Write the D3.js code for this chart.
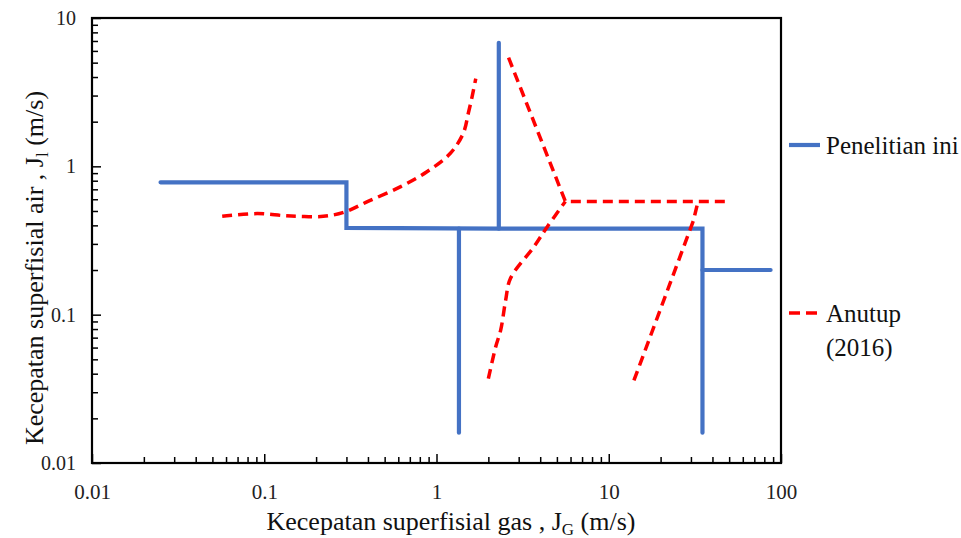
<!DOCTYPE html>
<html>
<head>
<meta charset="utf-8">
<script src="https://cdn.jsdelivr.net/npm/d3@7/dist/d3.min.js"></script>
<style>
  body { margin: 0; background: #fff; }
  svg text { font-family: "Liberation Serif", "Times New Roman", serif; }
</style>
</head>
<body>
<div id="chart"></div>
<script>
// Flow-regime map: superficial gas vs liquid velocity, log-log.

const xTicks = [0.01, 0.1, 1, 10, 100];
const yTicks = [0.01, 0.1, 1, 10];

// "Penelitian ini" boundaries (blue solid)
const blueMain = [[0.025, 0.78], [0.3, 0.78], [0.3, 0.385], [2.3, 0.38], [35, 0.38], [35, 0.016]];
const blueRise = [[2.3, 6.8], [2.3, 0.38]];
const blueDrop = [[1.35, 0.38], [1.35, 0.016]];
const blueTail = [[35, 0.2], [87, 0.2]];

// "Anutup (2016)" boundaries (red dashed)
const redCurve = [[0.057, 0.46], [0.091, 0.48], [0.13, 0.465], [0.16, 0.46], [0.22, 0.46], [0.29, 0.49],
  [0.4, 0.58], [0.62, 0.73], [0.88, 0.92], [1.2, 1.22], [1.43, 1.67], [1.53, 2.28], [1.61, 2.95], [1.69, 3.9]];
const redUpper = [[2.62, 5.4], [5.6, 0.58], [48, 0.58]];
const redLower = [[2.0, 0.037], [2.2, 0.06], [2.36, 0.079], [2.52, 0.125], [2.69, 0.176], [3.68, 0.287], [4.4, 0.392], [5.6, 0.58]];
const redRight = [[14, 0.036], [31, 0.43], [33, 0.58]];

const W = 961, H = 538;
const M = { left: 92, right: 781, top: 18, bottom: 463 };
const BLUE = "#4472C4", RED = "#FF0000";
const FONT = "Liberation Serif";

const svg = d3.select("#chart").append("svg")
  .attr("width", W).attr("height", H)
  .attr("font-family", FONT);

const x = d3.scaleLog().domain([0.01, 100]).range([M.left, M.right]);
const y = d3.scaleLog().domain([0.01, 10]).range([M.bottom, M.top]);

function minors(lo, hi) {
  const out = [];
  for (let d = lo; d < hi; d *= 10) for (let k = 2; k <= 9; k++) out.push(d * k);
  return out;
}

function styleAxis(g, size) {
  g.attr("font-family", FONT);
  g.select(".domain").remove();
  g.selectAll("line").attr("stroke", "#000").attr("stroke-width", 1.5);
  g.selectAll("text").attr("font-size", size).attr("fill", "#222");
}

// minor ticks
svg.append("g").attr("transform", `translate(0,${M.bottom})`)
  .call(d3.axisBottom(x).tickValues(minors(0.01, 100)).tickSize(-6).tickFormat(""))
  .call(styleAxis, 20);
svg.append("g").attr("transform", `translate(${M.left},0)`)
  .call(d3.axisLeft(y).tickValues(minors(0.01, 10)).tickSize(-6).tickFormat(""))
  .call(styleAxis, 20);

// major ticks with labels
svg.append("g").attr("transform", `translate(0,${M.bottom})`)
  .call(d3.axisBottom(x).tickValues(xTicks).tickSize(-9).tickPadding(21).tickFormat(d => String(d)))
  .call(styleAxis, 21);
svg.append("g").attr("transform", `translate(${M.left},0)`)
  .call(d3.axisLeft(y).tickValues(yTicks).tickSize(-9).tickPadding(16).tickFormat(d => String(d)))
  .call(styleAxis, 20);

// frame
svg.append("rect")
  .attr("x", M.left).attr("y", M.top)
  .attr("width", M.right - M.left).attr("height", M.bottom - M.top)
  .attr("fill", "none").attr("stroke", "#000").attr("stroke-width", 2.2);

const lineLin = d3.line().x(d => x(d[0])).y(d => y(d[1]));
const lineSmooth = d3.line().x(d => x(d[0])).y(d => y(d[1])).curve(d3.curveCatmullRom);

const gBlue = svg.append("g");
[blueMain, blueRise, blueDrop, blueTail].forEach(seg => {
  gBlue.append("path").attr("d", lineLin(seg))
    .attr("fill", "none").attr("stroke", BLUE).attr("stroke-width", 4.2)
    .attr("stroke-linecap", "round").attr("stroke-linejoin", "miter");
});

const gRed = svg.append("g");
[[redCurve, lineSmooth], [redUpper, lineLin], [redLower, lineSmooth], [redRight, lineLin]].forEach(([seg, gen]) => {
  gRed.append("path").attr("d", gen(seg))
    .attr("fill", "none").attr("stroke", RED).attr("stroke-width", 3.5)
    .attr("stroke-dasharray", "10,6").attr("stroke-linejoin", "round");
});

// axis titles
svg.append("text")
  .attr("x", 451).attr("y", 530).attr("text-anchor", "middle")
  .attr("font-size", 26).attr("fill", "#111")
  .call(t => {
    t.append("tspan").text("Kecepatan superfisial gas , J");
    t.append("tspan").text("G").attr("font-size", 17).attr("dy", 5);
    t.append("tspan").text(" (m/s)").attr("dy", -5);
  });

svg.append("text")
  .attr("transform", "translate(43,268) rotate(-90)").attr("text-anchor", "middle")
  .attr("font-size", 26).attr("fill", "#111")
  .call(t => {
    t.append("tspan").text("Kecepatan superfisial air , J");
    t.append("tspan").text("l").attr("font-size", 17).attr("dy", 5);
    t.append("tspan").text(" (m/s)").attr("dy", -5);
  });

// legend
const leg = svg.append("g");
leg.append("line").attr("x1", 789).attr("x2", 820).attr("y1", 145).attr("y2", 145)
  .attr("stroke", BLUE).attr("stroke-width", 4.2);
leg.append("text").attr("x", 826).attr("y", 154).attr("font-size", 25).attr("fill", "#111").text("Penelitian ini");
leg.append("line").attr("x1", 789).attr("x2", 818).attr("y1", 313).attr("y2", 313)
  .attr("stroke", RED).attr("stroke-width", 3.5).attr("stroke-dasharray", "11,6");
leg.append("text").attr("x", 826).attr("y", 322).attr("font-size", 25).attr("fill", "#111").text("Anutup");
leg.append("text").attr("x", 826).attr("y", 356).attr("font-size", 25).attr("fill", "#111").text("(2016)");
</script>
</body>
</html>
